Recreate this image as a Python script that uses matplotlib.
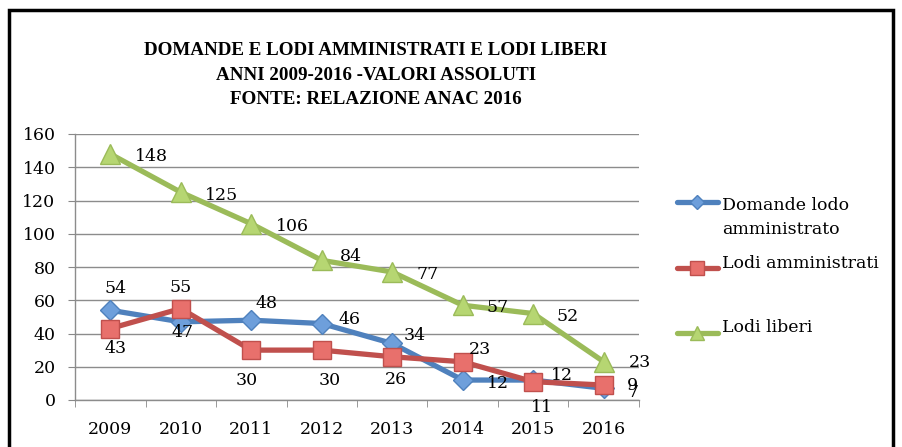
import matplotlib
matplotlib.use("Agg")
import matplotlib.pyplot as plt
from matplotlib.lines import Line2D
from matplotlib.patches import Rectangle

# Data
years = ["2009", "2010", "2011", "2012", "2013", "2014", "2015", "2016"]
domande = [54, 47, 48, 46, 34, 12, 12, 7]
lodi_amm = [43, 55, 30, 30, 26, 23, 11, 9]
lodi_lib = [148, 125, 106, 84, 77, 57, 52, 23]

series_names = ["Domande lodo\namministrato", "Lodi amministrati", "Lodi liberi"]

# label offsets in pixels (dx, dy) relative to each point
off_dom = [(5, 22), (2, -11), (15, 17), (28, 4), (22, 8), (35, -3), (29, 5), (29, -4)]
off_amm = [(5, -20), (0, 21), (-5, -30), (8, -30), (4, -23), (17, 12), (9, -26), (29, 0)]
off_lib = [(41, -3), (41, -3), (41, -3), (29, 4), (35, -3), (35, -2), (34, -3), (36, -1)]

SERIF = ["DejaVu Serif"]

fig = plt.figure(figsize=(9.03, 4.47), dpi=100)
ax = fig.add_axes([75 / 903, 47 / 447, 564 / 903, 266 / 447])

x = list(range(len(years)))
styles = [
    (domande, "#4F81BD", "D", 10, "#6E9FDB", off_dom),
    (lodi_amm, "#C0504D", "s", 13, "#E8706C", off_amm),
    (lodi_lib, "#9BBB59", "^", 14, "#B6D672", off_lib),
]

px2pt = 72 / 100
for vals, col, mk, ms, fc, offs in styles:
    ax.plot(x, vals, color=col, lw=3.8, marker=mk, ms=ms, mfc=fc, mec=col,
            mew=1, solid_capstyle="round", zorder=3)
    for xi, v, (dx, dy) in zip(x, vals, offs):
        ax.annotate(str(v), (xi, v), xytext=(dx * px2pt, dy * px2pt),
                    textcoords="offset points", ha="center", va="center",
                    fontsize=12.5, family=SERIF, color="black", zorder=4)

ax.set_xlim(-0.5, 7.5)
ax.set_ylim(0, 160)
ax.set_yticks(range(0, 161, 20))
ax.set_xticks(x)
ax.set_xticklabels(years)
ax.set_xticks([i - 0.5 for i in range(len(years) + 1)], minor=True)
ax.tick_params(axis="x", which="major", length=0, pad=15)
ax.tick_params(axis="x", which="minor", length=5, color="#888888", direction="out")
ax.tick_params(axis="y", length=5, color="#888888", pad=9)
for lab in ax.get_xticklabels() + ax.get_yticklabels():
    lab.set_family(SERIF)
    lab.set_fontsize(12.5)

ax.grid(axis="y", color="#8c8c8c", lw=1)
ax.set_axisbelow(True)
for s in ["top", "right"]:
    ax.spines[s].set_visible(False)
for s in ["left", "bottom"]:
    ax.spines[s].set_color("#8c8c8c")
    ax.spines[s].set_linewidth(1)

# title
fig.text(376 / 903, 1 - 75 / 447,
         "DOMANDE E LODI AMMINISTRATI E LODI LIBERI\nANNI 2009-2016 -VALORI ASSOLUTI\nFONTE: RELAZIONE ANAC 2016",
         ha="center", va="center", fontsize=13.7, fontweight="bold",
         family=["Liberation Serif"], linespacing=1.6)

# legend
leg_y = [202, 268, 333]
for (vals, col, mk, ms, fc, offs), name, ly in zip(styles, series_names, leg_y):
    yf = 1 - ly / 447
    fig.add_artist(Line2D([677 / 903, 718 / 903], [yf, yf], color=col, lw=3.8,
                          solid_capstyle="round", transform=fig.transFigure))
    fig.add_artist(Line2D([697.5 / 903], [yf], marker=mk, ms=ms * 0.75, mfc=fc,
                          mec=col, mew=1, transform=fig.transFigure))
    fig.text(722 / 903, yf + 5 / 447, name, ha="left", va="top" if "\n" in name else "center",
             fontsize=12.5, family=SERIF, linespacing=1.5)

# outer frame
fig.add_artist(Rectangle((9 / 903, -0.1), 884 / 903, 1.1 - 10 / 447, fill=False,
                         ec="black", lw=2.5, transform=fig.transFigure))

fig.savefig("out.png", dpi=100)
